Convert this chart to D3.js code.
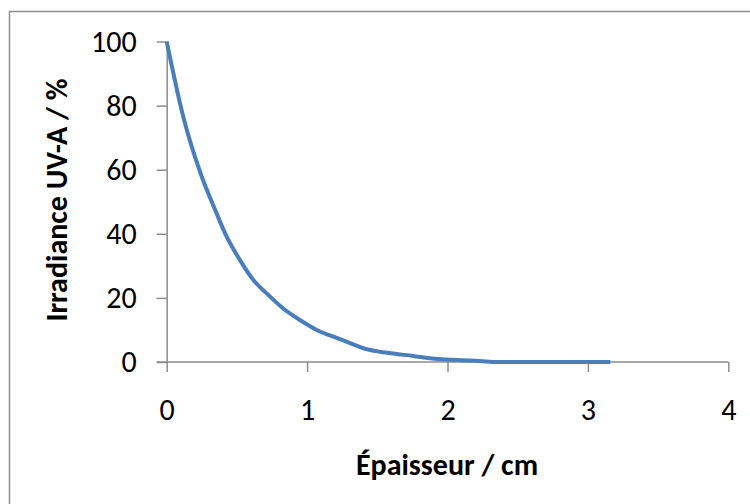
<!DOCTYPE html>
<html>
<head>
<meta charset="utf-8">
<script src="https://cdn.jsdelivr.net/npm/d3@7"></script>
<style>
  html, body { margin: 0; padding: 0; background: #fff; }
  svg { display: block; }
  text { font-family: Carlito, Lato, "Liberation Sans", sans-serif; }
</style>
</head>
<body>
<svg id="chart" width="750" height="504"></svg>
<script>
// Epaisseur (cm) and irradiance UV-A (%) transmitted
const thickness = [0, 0.118, 0.25, 0.344, 0.427, 0.522, 0.617, 0.712, 0.83, 0.949, 1.068, 1.187, 1.306, 1.4, 1.52, 1.638, 1.756, 1.875, 1.994, 2.07, 2.23, 2.35, 2.9, 3.16];
const irradiance = [100, 76.5, 57.8, 47.6, 39.1, 31.8, 25.6, 21.4, 16.7, 13.1, 10.0, 7.9, 5.9, 4.3, 3.2, 2.5, 1.9, 1.15, 0.8, 0.6, 0.3, 0, 0, 0];
const xTicks = [0, 1, 2, 3, 4];
const yTicks = [0, 20, 40, 60, 80, 100];
const xTitle = "Épaisseur / cm";
const yTitle = "Irradiance UV-A / %";

const svg = d3.select("#chart");
const axisColor = "#8c8c8c";
const fontSize = "30px";

// chart area frame
svg.append("rect")
  .attr("x", 9.5).attr("y", 11.5)
  .attr("width", 760).attr("height", 520)
  .attr("fill", "#fff")
  .attr("stroke", "#8f8f8f").attr("stroke-width", 1.5);

const x = d3.scaleLinear().domain([0, 4]).range([166.7, 728.3]);
const y = d3.scaleLinear().domain([0, 100]).range([362, 41.5]);

// x axis
const xAxis = svg.append("g")
  .attr("transform", `translate(0,${y(0)})`)
  .call(d3.axisBottom(x).tickValues(xTicks).tickFormat(d3.format("d")).tickSize(10).tickPadding(27).tickSizeOuter(0));
// y axis
const yAxis = svg.append("g")
  .attr("transform", `translate(${x(0)},0)`)
  .call(d3.axisLeft(y).tickValues(yTicks).tickFormat(d3.format("d")).tickSize(10).tickPadding(20).tickSizeOuter(0));

[xAxis, yAxis].forEach(g => {
  g.select(".domain").attr("stroke", axisColor).attr("stroke-width", 1.5);
  g.selectAll(".tick line").attr("stroke", axisColor).attr("stroke-width", 1.5);
  g.selectAll(".tick text")
    .attr("fill", "#000")
    .style("font-size", fontSize);
});
// x axis line starts where the y tick at 0 begins
xAxis.select(".domain").attr("d", `M${x(0) - 10},0H${x(4)}`);

// curve
const line = d3.line()
  .x((d, i) => x(thickness[i]))
  .y(d => y(d))
  .curve(d3.curveMonotoneX);

svg.append("path")
  .datum(irradiance)
  .attr("d", line)
  .attr("fill", "none")
  .attr("stroke", "#4a7ebb")
  .attr("stroke-width", 4)
  .attr("stroke-linejoin", "round");

// axis titles
svg.append("text")
  .attr("x", 447).attr("y", 475)
  .attr("text-anchor", "middle")
  .style("font-size", fontSize).style("font-weight", "bold")
  .text(xTitle);

svg.append("text")
  .attr("transform", "translate(67,200) rotate(-90)")
  .attr("text-anchor", "middle")
  .style("font-size", fontSize).style("font-weight", "bold")
  .text(yTitle);
</script>
</body>
</html>
